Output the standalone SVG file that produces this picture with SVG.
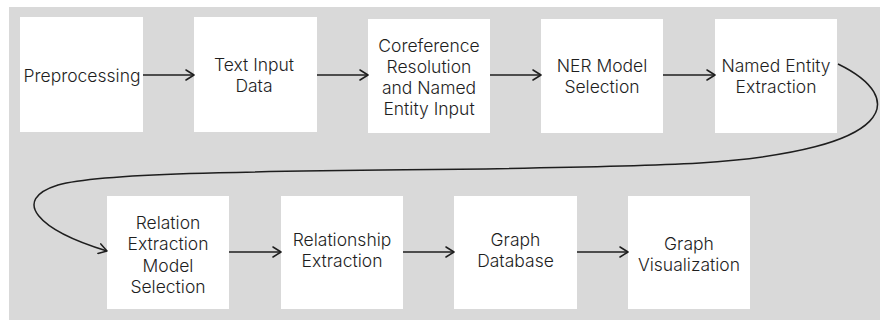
<svg xmlns="http://www.w3.org/2000/svg" width="880" height="320" viewBox="0 0 880 320">
  <style>
    .box { fill: #ffffff; }
    .lbl { font-family: Inter, "Liberation Sans", sans-serif; font-size: 17.5px; font-weight: 300; fill: #1e1e1e; text-anchor: middle; dominant-baseline: central; }
    .edge { fill: none; stroke: #1e1e1e; stroke-width: 1.5; }
  </style>
  <defs>
    <marker id="arr" viewBox="0 0 12 12" refX="10" refY="6" markerWidth="12" markerHeight="12" markerUnits="userSpaceOnUse" orient="auto">
      <path d="M 2 1 L 10 6 L 2 11" fill="none" stroke="#1e1e1e" stroke-width="1.5" stroke-linecap="round" stroke-linejoin="round"/>
    </marker>
  </defs>
  <rect x="0" y="0" width="880" height="320" fill="#ffffff"/>
  <rect x="9" y="7" width="871" height="313" fill="#d9d9d9"/>

  <g id="n-preprocessing">
    <rect class="box" x="20" y="17" width="123" height="115"/>
    <text class="lbl" x="82" y="75">Preprocessing</text>
  </g>
  <g id="n-text-input">
    <rect class="box" x="194" y="17" width="123" height="115"/>
    <text class="lbl" x="254" y="64.5">Text Input</text>
    <text class="lbl" x="254" y="85.5">Data</text>
  </g>
  <g id="n-coref">
    <rect class="box" x="368" y="19" width="122" height="114"/>
    <text class="lbl" x="429" y="45">Coreference</text>
    <text class="lbl" x="429" y="66">Resolution</text>
    <text class="lbl" x="429" y="87">and Named</text>
    <text class="lbl" x="429" y="108">Entity Input</text>
  </g>
  <g id="n-ner-model">
    <rect class="box" x="541" y="19" width="122" height="114"/>
    <text class="lbl" x="602" y="65">NER Model</text>
    <text class="lbl" x="602" y="86">Selection</text>
  </g>
  <g id="n-ner-extract">
    <rect class="box" x="715" y="19" width="122" height="114"/>
    <text class="lbl" x="776" y="65">Named Entity</text>
    <text class="lbl" x="776" y="86">Extraction</text>
  </g>
  <g id="n-rel-model">
    <rect class="box" x="107" y="196" width="122" height="113"/>
    <text class="lbl" x="168" y="222.5">Relation</text>
    <text class="lbl" x="168" y="243.5">Extraction</text>
    <text class="lbl" x="168" y="265">Model</text>
    <text class="lbl" x="168" y="286">Selection</text>
  </g>
  <g id="n-rel-extract">
    <rect class="box" x="281" y="196" width="122" height="113"/>
    <text class="lbl" x="342" y="239">Relationship</text>
    <text class="lbl" x="342" y="260">Extraction</text>
  </g>
  <g id="n-graph-db">
    <rect class="box" x="454" y="196" width="123" height="113"/>
    <text class="lbl" x="515.5" y="239">Graph</text>
    <text class="lbl" x="515.5" y="260">Database</text>
  </g>
  <g id="n-graph-vis">
    <rect class="box" x="628" y="196" width="122" height="113"/>
    <text class="lbl" x="689" y="243">Graph</text>
    <text class="lbl" x="689" y="264">Visualization</text>
  </g>

  <g id="connectors">
    <path class="edge" d="M 143 75 L 194 75" marker-end="url(#arr)"/>
    <path class="edge" d="M 317 75 L 368 75" marker-end="url(#arr)"/>
    <path class="edge" d="M 490 75 L 541 75" marker-end="url(#arr)"/>
    <path class="edge" d="M 663 75 L 715 75" marker-end="url(#arr)"/>
    <path class="edge" d="M 838 64 C 908 98, 898 150, 700 163 C 500 174, 130 165, 58 185 C 10 200, 38 230, 107 251" marker-end="url(#arr)"/>
    <path class="edge" d="M 229 252 L 281 252" marker-end="url(#arr)"/>
    <path class="edge" d="M 403 252 L 454 252" marker-end="url(#arr)"/>
    <path class="edge" d="M 577 252 L 628 252" marker-end="url(#arr)"/>
  </g>
</svg>
